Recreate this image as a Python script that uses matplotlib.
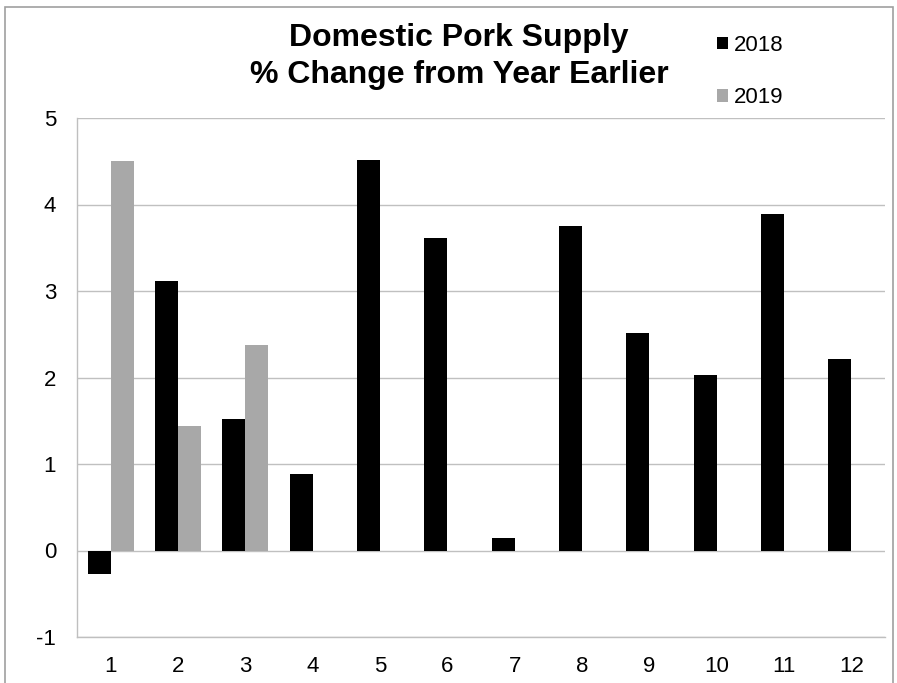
import matplotlib
matplotlib.use("Agg")
import matplotlib.pyplot as plt
import numpy as np
from matplotlib.patches import Rectangle

months = [str(i) for i in range(1, 13)]
s2018 = [-0.27, 3.11, 1.52, 0.89, 4.51, 3.61, 0.15, 3.75, 2.51, 2.03, 3.89, 2.21]
s2019 = [4.50, 1.44, 2.37]
yticks = [-1, 0, 1, 2, 3, 4, 5]

plt.rcParams['font.family'] = ['Liberation Sans', 'DejaVu Sans']

fig = plt.figure(figsize=(8.97, 6.83), dpi=100)
ax = fig.add_axes([77/897, (683-637)/683, (885-77)/897, (637-118)/683])

x = np.arange(len(months))
w = 0.34
ax.bar(x - w/2, s2018, width=w, color='#000000', label='2018', zorder=3)
x19 = np.arange(len(s2019))
ax.bar(x19 + w/2, s2019, width=w, color='#a8a8a8', label='2019', zorder=3)

ax.set_xlim(-0.5, len(months) - 0.5)
ax.set_ylim(-1, 5)
ax.set_yticks(yticks)
ax.set_yticklabels([str(v) for v in yticks])
ax.set_xticks(x)
ax.set_xticklabels(months)
ax.tick_params(axis='both', length=0, labelsize=16, colors='#000000')
ax.tick_params(axis='y', pad=15)
ax.tick_params(axis='x', pad=14)
ax.yaxis.grid(True, color='#c0c0c0', linewidth=1, zorder=0)
for s in ['top', 'right']:
    ax.spines[s].set_visible(False)
for s in ['left', 'bottom']:
    ax.spines[s].set_color('#bfbfbf')
    ax.spines[s].set_linewidth(1)

fig.text(459/897, 1 - 38/683, 'Domestic Pork Supply', ha='center', va='center',
         fontsize=23, fontweight='bold')
fig.text(459/897, 1 - 75/683, '% Change from Year Earlier', ha='center', va='center',
         fontsize=23, fontweight='bold')

leg = fig.legend(loc='upper left', bbox_to_anchor=(697/897, 1 - 15/683), frameon=False,
                 fontsize=16, handlelength=0.5, handleheight=0.5, handletextpad=0.25,
                 labelspacing=1.4)

fig.patches.append(Rectangle((5/897, -0.1), (893-5)/897, 1.1 - 7/683, transform=fig.transFigure,
                             fill=False, edgecolor='#a0a0a0', linewidth=1.2))

fig.savefig('out.png', dpi=100)
